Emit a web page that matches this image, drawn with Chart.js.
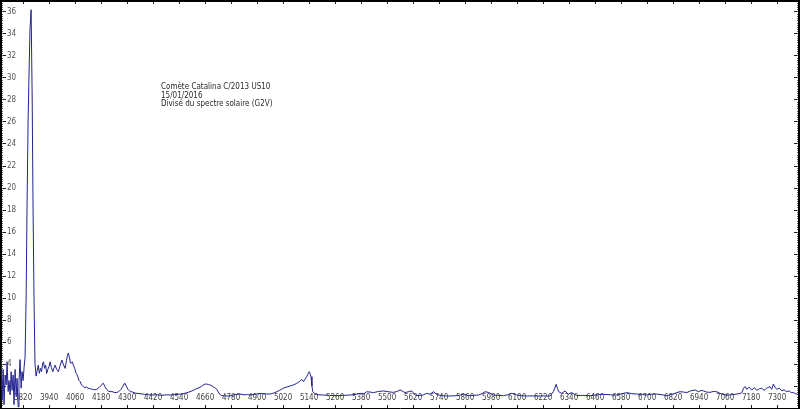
<!DOCTYPE html>
<html>
<head>
<meta charset="utf-8">
<script src="https://cdn.jsdelivr.net/npm/chart.js@4"></script>
<style>
  html, body { margin: 0; padding: 0; background: #fff; }
  #wrap { position: relative; width: 800px; height: 409px; }
  #note { position: absolute; left: 161px; top: 83px; font: 8px/8.7px "DejaVu Sans Condensed", "DejaVu Sans", sans-serif; color: #2a2a2a; white-space: pre; }
</style>
</head>
<body>
<div id="wrap">
  <canvas id="chart" width="800" height="409"></canvas>
  <div id="note"></div>
</div>
<script>
// Annotation
const NOTE_LINES = ['Comète Catalina C/2013 US10', '15/01/2016', 'Divisé du spectre solaire (G2V)'];

// Axis ranges / ticks
const X_MIN = 3718, X_MAX = 7401;
const Y_MIN = 0, Y_MAX = 37;
const X_TICKS = [3820, 3940, 4060, 4180, 4300, 4420, 4540, 4660, 4780, 4900, 5020, 5140, 5260, 5380, 5500,
  5620, 5740, 5860, 5980, 6100, 6220, 6340, 6460, 6580, 6700, 6820, 6940, 7060, 7180, 7300];

// Spectrum (wavelength in A, relative flux)
const WAVE = [
  3714, 3719, 3723, 3728, 3732, 3737, 3742, 3746, 3751, 3755, 3760, 3765, 3769, 3774, 3778, 3783, 3788, 3792, 3797, 3801,
  3806, 3811, 3815, 3820, 3825, 3829, 3834, 3838, 3843, 3848, 3852, 3857, 3862, 3866, 3871, 3875, 3880,
  3885, 3890, 3895, 3900, 3905, 3910, 3914, 3919, 3924, 3929, 3934, 3940, 3945, 3950, 3957, 3962, 3968, 3975, 3983, 3990,
  3999, 4005, 4014, 4020, 4025, 4029, 4034, 4038, 4042, 4047, 4052, 4058, 4065, 4072, 4078, 4083, 4090, 4098, 4105, 4112,
  4121, 4130, 4140, 4150, 4160, 4170, 4180, 4186, 4191, 4197, 4205, 4213, 4221, 4230, 4240, 4252, 4262, 4272, 4280, 4286,
  4290, 4296, 4304, 4314, 4325, 4340, 4360, 4380, 4400, 4420, 4440, 4460, 4480, 4498, 4520, 4540, 4558, 4575, 4590, 4605,
  4620, 4637, 4648, 4660, 4668, 4675, 4684, 4691, 4700, 4708, 4714, 4720, 4726, 4737, 4755, 4775, 4795, 4810, 4821, 4840,
  4855, 4868, 4890, 4914, 4935, 4960, 4975, 4991, 5005, 5021, 5036, 5052, 5068, 5083, 5095, 5106, 5114, 5122, 5129, 5136,
  5141, 5149, 5153, 5157, 5168, 5185, 5206, 5235, 5268, 5300, 5329, 5360, 5375, 5391, 5406, 5421, 5437, 5460, 5483, 5505,
  5529, 5545, 5560, 5572, 5583, 5598, 5614, 5629, 5652, 5668, 5683, 5698, 5714, 5725, 5737, 5755, 5775, 5800, 5822, 5840,
  5852, 5868, 5883, 5900, 5921, 5938, 5952, 5967, 5980, 5990, 6010, 6037, 6055, 6075, 6088, 6098, 6120, 6144, 6175, 6206,
  6230, 6252, 6267, 6274, 6280, 6286, 6292, 6306, 6321, 6336, 6352, 6375, 6400, 6437, 6470, 6498, 6530, 6560, 6585, 6606,
  6630, 6652, 6675, 6698, 6720, 6744, 6770, 6791, 6805, 6821, 6837, 6852, 6868, 6883, 6900, 6921, 6937, 6950, 6960, 6975,
  6991, 7005, 7021, 7035, 7044, 7068, 7090, 7114, 7130, 7137, 7145, 7152, 7160, 7170, 7183, 7195, 7206, 7218, 7229, 7240,
  7252, 7262, 7267, 7275, 7283, 7290, 7298, 7310, 7321, 7332, 7344, 7356, 7365, 7375, 7385, 7395, 7406
];
const FLUX = [
  2.5, 4.4, 0.7, 3.5, 0.3, 3.0, 2.1, 4.2, 1.5, 2.5, 1.2, 3.3, 1.6, 3.0, 0.3, 3.5, 1.1, 2.7, 0.1, 2.4,
  4.4, 1.8, 3.3, 2.5, 3.8, 4.6, 10, 18, 26, 31, 34.5, 36.2, 28, 18, 9, 4, 2.9,
  3.4, 3.9, 3.15, 3.6, 3.3, 4.0, 4.2, 3.6, 3.9, 3.15, 3.5, 3.8, 4.2, 3.7, 3.3, 3.6, 3.9, 3.5, 3.3, 3.8,
  4.36, 4.0, 3.6, 4.3, 4.8, 5.0, 4.6, 4.1, 4.06, 4.2, 3.9, 3.6, 3.15, 2.9, 2.5, 2.4, 2.1, 1.94, 1.85, 1.9,
  1.8, 1.75, 1.7, 1.65, 1.7, 1.85, 2.05, 2.2, 2.24, 1.95, 1.7, 1.55, 1.48, 1.5, 1.42, 1.4, 1.5, 1.7, 1.95, 2.2,
  2.24, 2.0, 1.7, 1.5, 1.45, 1.35, 1.3, 1.25, 1.2, 1.18, 1.2, 1.15, 1.2, 1.18, 1.22, 1.25, 1.3, 1.38, 1.48, 1.6,
  1.75, 1.88, 2.05, 2.18, 2.17, 2.15, 2.08, 2.03, 1.9, 1.8, 1.7, 1.5, 1.27, 1.12, 1.1, 1.09, 1.2, 1.25, 1.27, 1.2,
  1.22, 1.18, 1.25, 1.33, 1.28, 1.27, 1.35, 1.48, 1.62, 1.8, 1.9, 2.0, 2.1, 2.24, 2.4, 2.6, 2.4, 2.65, 2.85, 3.15,
  3.3, 2.85, 2.0, 1.48, 1.27, 1.2, 1.18, 1.15, 1.12, 1.15, 1.18, 1.25, 1.33, 1.27, 1.48, 1.45, 1.4, 1.5, 1.55, 1.48,
  1.42, 1.5, 1.64, 1.52, 1.4, 1.48, 1.55, 1.18, 1.12, 1.2, 1.33, 1.25, 1.48, 1.3, 1.18, 1.12, 1.09, 1.1, 1.12, 1.18,
  1.25, 1.18, 1.12, 1.15, 1.18, 1.3, 1.48, 1.42, 1.3, 1.18, 1.15, 1.12, 1.2, 1.33, 1.25, 1.18, 1.12, 1.09, 1.1, 1.09,
  1.1, 1.09, 1.48, 1.8, 2.15, 1.8, 1.48, 1.33, 1.55, 1.25, 1.4, 1.12, 1.15, 1.12, 1.2, 1.25, 1.2, 1.18, 1.3, 1.4,
  1.3, 1.27, 1.22, 1.18, 1.25, 1.27, 1.2, 1.12, 1.2, 1.27, 1.4, 1.48, 1.45, 1.4, 1.55, 1.64, 1.48, 1.6, 1.55, 1.45,
  1.42, 1.5, 1.48, 1.35, 1.27, 1.18, 1.2, 1.27, 1.33, 1.4, 1.8, 1.95, 1.7, 1.9, 1.64, 1.85, 1.6, 1.75, 1.8, 1.6,
  1.8, 1.9, 1.94, 1.7, 2.18, 1.9, 1.7, 1.8, 1.57, 1.65, 1.48, 1.55, 1.4, 1.4, 1.3, 1.25, 1.2
];

document.getElementById('note').textContent = NOTE_LINES.join('\n');

const FONT = { family: "'DejaVu Sans Condensed', 'DejaVu Sans', sans-serif", size: 8 };
// axes sit on the frame: no room taken, no edge padding
const flatW = s => { s.width = 0; s.paddingTop = 0; s.paddingBottom = 0; };
const flatH = s => { s.height = 0; s.paddingLeft = 0; s.paddingRight = 0; };
const setXTicks = s => { s.ticks = X_TICKS.map(v => ({ value: v })); };

const xAxis = (pos, showLabels, borderW) => ({
  type: 'linear', position: pos, min: X_MIN, max: X_MAX,
  afterBuildTicks: setXTicks, afterFit: flatH,
  // mirrored labels sit above the bottom frame line
  ticks: { display: showLabels, mirror: true, padding: 5, font: FONT, color: '#444', maxRotation: 0, autoSkip: false, callback: v => String(v) },
  grid: { drawOnChartArea: false, tickLength: -3, color: '#222' },
  border: { color: '#000', width: borderW }
});
const yAxis = (pos, step, len, showLabels, showBorder) => ({
  type: 'linear', position: pos, min: Y_MIN, max: Y_MAX, afterFit: flatW,
  ticks: { display: showLabels, stepSize: step, mirror: true, padding: 6, font: FONT, color: '#555',
    callback: v => (v >= 4 && v <= 36 ? String(v) : '') },
  grid: { drawOnChartArea: false, tickLength: len, color: step < 1 ? '#666' : '#222' },
  border: { display: showBorder, color: '#000', width: 2 }
});

new Chart(document.getElementById('chart'), {
  type: 'line',
  data: {
    datasets: [{
      data: WAVE.map((w, i) => ({ x: w, y: FLUX[i] })),
      borderColor: '#22228f', borderWidth: 1, pointRadius: 0, tension: 0,
      xAxisID: 'x', yAxisID: 'y'
    }]
  },
  options: {
    responsive: false, animation: false,
    layout: { padding: { left: 1, right: 1, top: 1, bottom: 1 } },
    plugins: { legend: { display: false }, tooltip: { enabled: false } },
    scales: {
      x: xAxis('bottom', true, 1),
      xTop: xAxis('top', false, 2),
      y: yAxis('left', 2, -5, true, true),
      yMinor: yAxis('left', 0.2, -2, false, false),
      yR: yAxis('right', 2, -5, false, true),
      yRMinor: yAxis('right', 0.2, -2, false, false)
    }
  }
});
</script>
</body>
</html>
